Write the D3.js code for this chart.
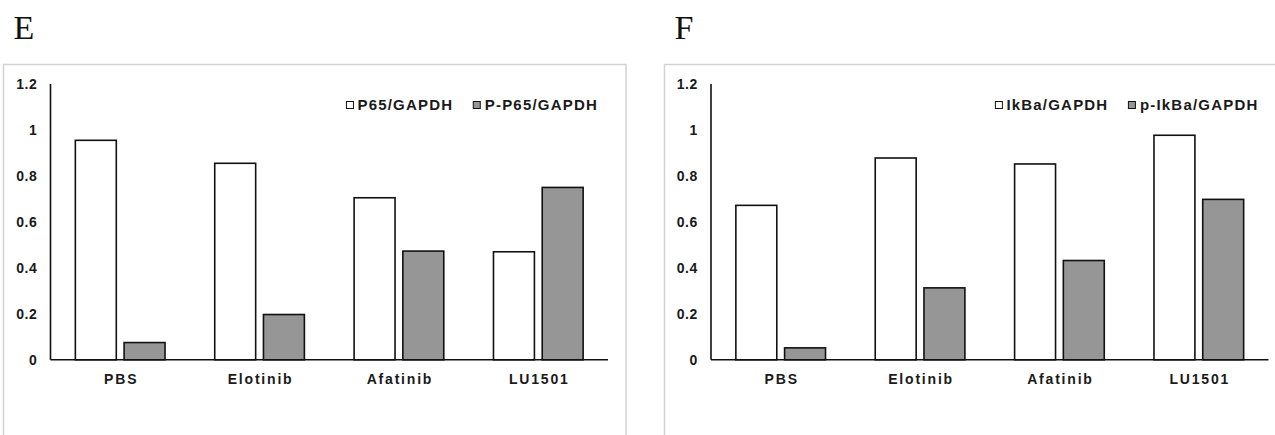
<!DOCTYPE html>
<html>
<head>
<meta charset="utf-8">
<script src="https://cdn.jsdelivr.net/npm/d3@7"></script>
<style>
  body { margin: 0; background: #fff; }
  svg { display: block; }
  .tick text { font-family: "Liberation Sans", Arial, sans-serif; font-weight: bold; }
</style>
</head>
<body>
<svg id="chart" width="1275" height="435"></svg>
<script>
// data
const categories = ['PBS', 'Elotinib', 'Afatinib', 'LU1501'];
const yTicks = [0, 0.2, 0.4, 0.6, 0.8, 1, 1.2];

const seriesE = ['P65/GAPDH', 'P-P65/GAPDH'];
const p65 = [0.955, 0.855, 0.705, 0.47];
const pP65 = [0.075, 0.197, 0.473, 0.75];

const seriesF = ['IkBa/GAPDH', 'p-IkBa/GAPDH'];
const ikba = [0.672, 0.878, 0.852, 0.977];
const pIkba = [0.052, 0.313, 0.432, 0.698];

const fills = ['#ffffff', '#969696'];

const svg = d3.select('#chart');

function drawPanel(letter, frameX, frameW, axisX, series, valsA, valsB) {
    const g = svg.append('g');
    const top = 84, bottom = 359.8, axisW = 557.5;

    // frame
    g.append('rect')
        .attr('x', frameX).attr('y', 64.5)
        .attr('width', frameW).attr('height', 400)
        .attr('fill', 'none').attr('stroke', '#d2d2d2').attr('stroke-width', 1.5);

    // panel letter
    g.append('text')
        .attr('x', frameX + 10).attr('y', 39)
        .attr('font-family', '"Liberation Serif", "Times New Roman", serif')
        .attr('font-size', 34)
        .attr('fill', '#111')
        .text(letter);

    const y = d3.scaleLinear().domain([0, 1.2]).range([bottom, top]);
    const x = d3.scaleBand().domain(categories).range([axisX, axisX + axisW]);
    const xs = d3.scaleBand().domain(series).range([0, x.bandwidth()])
        .paddingInner(0.16).paddingOuter(0.51);

    // y axis
    const ya = g.append('g')
        .attr('transform', 'translate(' + axisX + ',0)')
        .call(d3.axisLeft(y).tickValues(yTicks).tickSize(0).tickPadding(13)
            .tickFormat(d => d3.format('')(d)));
    ya.select('.domain').remove();
    ya.selectAll('text')
        .attr('font-size', 14)
        .attr('letter-spacing', 0.6)
        .attr('fill', '#1a1a1a');
    g.append('line')
        .attr('x1', axisX).attr('x2', axisX)
        .attr('y1', top).attr('y2', bottom)
        .attr('stroke', '#111').attr('stroke-width', 1.6);

    // bars
    const rows = categories.map((c, i) => ({ c: c, vals: [valsA[i], valsB[i]] }));
    const grp = g.selectAll('.grp')
        .data(rows)
        .enter()
        .append('g')
        .attr('class', 'grp')
        .attr('transform', d => 'translate(' + x(d.c) + ',0)');
    grp.selectAll('rect')
        .data(d => d.vals.map((v, j) => ({ s: series[j], v: v, j: j })))
        .enter()
        .append('rect')
        .attr('x', d => xs(d.s))
        .attr('y', d => y(d.v))
        .attr('width', xs.bandwidth())
        .attr('height', d => y(0) - y(d.v))
        .attr('fill', d => fills[d.j])
        .attr('stroke', '#111')
        .attr('stroke-width', 1.6);

    // x axis
    const xa = g.append('g')
        .attr('transform', 'translate(0,' + bottom + ')')
        .call(d3.axisBottom(x).tickSize(0).tickPadding(14));
    xa.select('.domain').remove();
    xa.selectAll('text')
        .attr('font-size', 14)
        .attr('letter-spacing', 1.8)
        .attr('dx', 1)
        .attr('fill', '#1a1a1a');
    g.append('line')
        .attr('x1', axisX).attr('x2', axisX + axisW)
        .attr('y1', bottom).attr('y2', bottom)
        .attr('stroke', '#111').attr('stroke-width', 1.6);

    // legend, laid out from the right
    const legY = 110;
    const legStyle = sel => sel
        .attr('font-family', '"Liberation Sans", Arial, sans-serif')
        .attr('font-weight', 'bold')
        .attr('font-size', 15)
        .attr('letter-spacing', 1.2)
        .attr('fill', '#1a1a1a');

    const t2 = g.append('text').call(legStyle).text(series[1]);
    const w2 = t2.node().getComputedTextLength();
    const t2x = axisX + axisW - 10 - w2;
    t2.attr('x', t2x).attr('y', legY);
    const s2x = t2x - 11.5;
    g.append('rect').attr('x', s2x).attr('y', 101.5).attr('width', 7).attr('height', 7)
        .attr('fill', fills[1]).attr('stroke', '#111').attr('stroke-width', 1);

    const t1 = g.append('text').call(legStyle).text(series[0]);
    const w1 = t1.node().getComputedTextLength();
    const t1x = s2x - 20 - w1;
    t1.attr('x', t1x).attr('y', legY);
    g.append('rect').attr('x', t1x - 11).attr('y', 101.5).attr('width', 7).attr('height', 7)
        .attr('fill', fills[0]).attr('stroke', '#111').attr('stroke-width', 1);
}

drawPanel('E', 3.5, 622.5, 50.5, seriesE, p65, pP65);
drawPanel('F', 664.5, 640, 711, seriesF, ikba, pIkba);
</script>
</body>
</html>
